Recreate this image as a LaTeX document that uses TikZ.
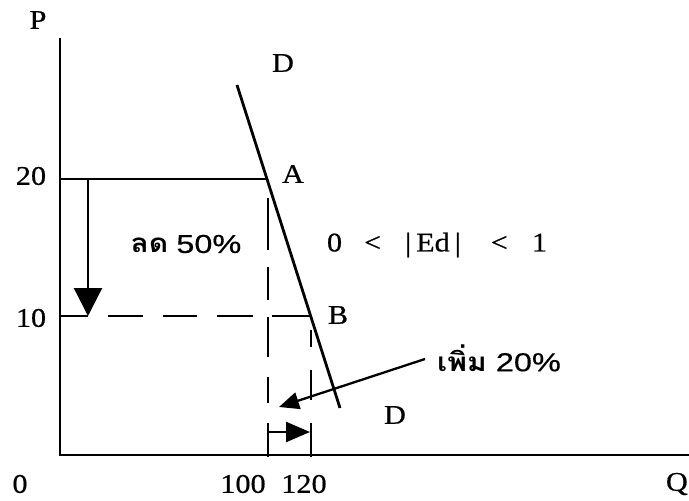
\documentclass[tikz,border=0pt]{standalone}
\usepackage{fontspec}
\setmainfont[FakeStretch=1.12,FakeBold=0.6]{Liberation Serif}
\newfontfamily\thaifont[Script=Thai,FakeStretch=1.15]{Loma}
\newfontfamily\labsans[FakeStretch=1.25,FakeBold=0.4]{Liberation Sans}
\usetikzlibrary{arrows.meta}
\begin{document}
\begin{tikzpicture}[x=1pt,y=-1pt,
  axis/.style={line width=2.8pt},
  guide/.style={line width=2.3pt},
  dashline/.style={line width=1.9pt},
  lab/.style={font=\fontsize{27}{30}\selectfont,inner sep=0pt},
  sanslab/.style={font=\labsans\fontsize{26}{29}\selectfont,inner sep=0pt},
  bigtip/.style={-{Triangle[length=28pt,width=28pt]}},
  midtip/.style={-{Triangle[length=20pt,width=17pt]}},
  smalltip/.style={-{Triangle[length=24pt,width=20pt]}}]
\useasboundingbox (0,0) rectangle (689,501);
% axes
\coordinate (top) at (60,38);
\coordinate (O) at (60,455);
\coordinate (xend) at (689,455);
\draw[axis] (top) -- (O) -- (xend);
% demand line
\coordinate (D1) at (237,85);
\coordinate (D2) at (340,408);
\draw[line width=2.8pt] (D1) -- (D2);
\coordinate (A) at (268,179);
\coordinate (B) at (311,316);
\coordinate (P20) at (60,179);
\coordinate (P10) at (60,316);
\coordinate (Q100) at (268,457);
\coordinate (Q120) at (311,457);
\coordinate (A0) at (268,180);
\coordinate (B0) at (311,316);
\draw[guide] (P20) -- (A);
\draw[dashline,dash pattern=on 28pt off 20pt on 35pt off 20pt on 34pt off 20pt on 36pt off 19pt on 60pt] (P10) -- (B);
\draw[dashline,dash pattern=on 0pt off 18pt on 52pt off 17pt on 33pt off 17pt on 40pt off 20pt on 26pt off 20pt on 60pt] (A0) -- (Q100);
\draw[dashline,dash pattern=on 0pt off 14pt on 17pt off 23pt on 30pt off 23pt on 60pt] (B0) -- (Q120);
% labels
\node[lab] (lP) at (38,20) {P};
\node[lab] (l0) at (20,484) {0};
\node[lab] (l100) at (243,484) {100};
\node[lab] (l120) at (304,484) {120};
\node[lab,anchor=east] (lQ) at (688,484) {Q};
\node[lab] (l20) at (31,176) {20};
\node[lab] (l10) at (31,318) {10};
\node[lab] (lD1) at (283,63) {D};
\node[lab] (lA) at (293,174) {A};
\node[lab] (lB) at (338,315) {B};
\node[lab] (lD2) at (395,415) {D};
% price fall arrow
\coordinate (a1s) at (88,179);
\coordinate (a1e) at (88,316);
\draw[guide,bigtip] (a1s) -- (a1e);
\node[sanslab] (lfall) at (186,244) {{\thaifont\bfseries ลด}\hspace{8pt}50\%};
\node[lab] (led) at (437,245) {0\hspace{22pt}<\hspace{24pt}|\hspace{5pt}Ed\hspace{5pt}|\hspace{30pt}<\hspace{24pt}1};
\node[sanslab,anchor=west] (lrise) at (437,358) {{\thaifont\bfseries เพิ่ม}\hspace{9pt}20\%};
\coordinate (a2s) at (425,359);
\coordinate (a2e) at (279,407);
\draw[guide,midtip] (a2s) -- (a2e);
% quantity rise arrow
\coordinate (a3s) at (268,432);
\coordinate (a3e) at (310,432);
\draw[guide,smalltip] (a3s) -- (a3e);
\end{tikzpicture}
\end{document}
